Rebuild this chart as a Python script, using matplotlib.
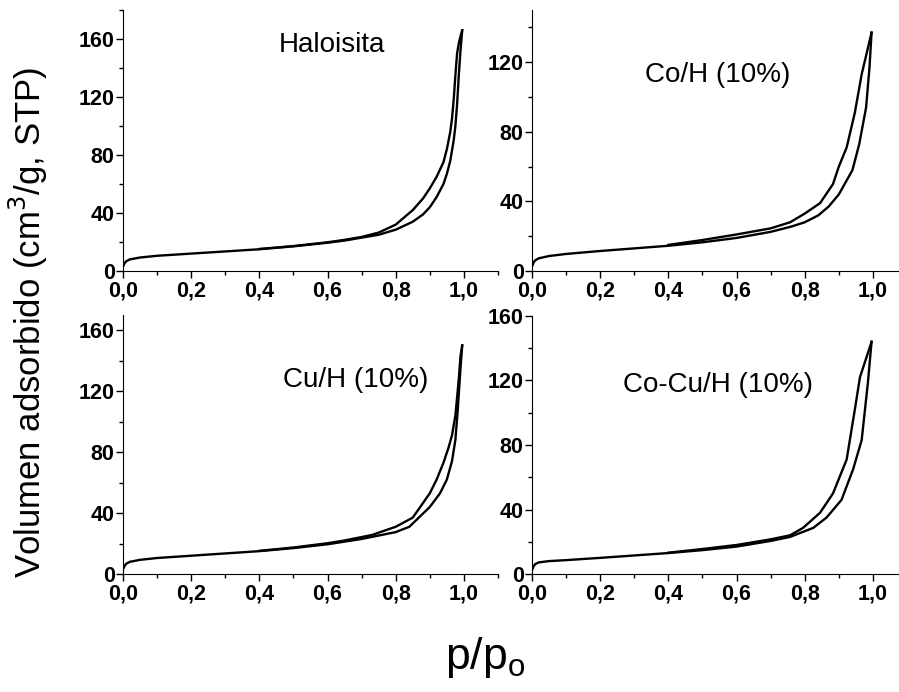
import matplotlib
matplotlib.use("Agg")
import matplotlib.pyplot as plt
from matplotlib.ticker import MultipleLocator, FuncFormatter

plt.rcParams["font.family"] = ["Liberation Sans", "DejaVu Sans"]

# Haloisita
halo_ads_p = [0.0, 0.005, 0.01, 0.02, 0.05, 0.1, 0.2, 0.3, 0.4, 0.5, 0.6, 0.65, 0.7, 0.75,
              0.8, 0.85, 0.88, 0.9, 0.92, 0.94, 0.95, 0.96, 0.97, 0.975, 0.98, 0.985, 0.99, 0.995]
halo_ads_v = [3, 5.5, 6.8, 8.0, 9.3, 10.5, 12, 13.5, 15, 17, 19.5, 21, 23, 25,
              28.5, 34, 39, 44, 51, 60, 67, 76, 90, 100, 115, 135, 152, 166]
halo_des_p = [0.995, 0.99, 0.985, 0.98, 0.975, 0.97, 0.965, 0.96, 0.95, 0.94, 0.92, 0.9,
              0.88, 0.85, 0.8, 0.75, 0.7, 0.65, 0.6, 0.5, 0.4]
halo_des_v = [166, 162, 157, 150, 135, 118, 105, 96, 84, 75, 65, 57,
              50, 42, 32, 26.5, 23.5, 21.5, 19.8, 17.2, 15.2]

# Co/H (10%)
coh_ads_p = [0.0, 0.005, 0.01, 0.02, 0.05, 0.1, 0.2, 0.3, 0.4, 0.5, 0.6, 0.7, 0.76, 0.8,
             0.84, 0.87, 0.9, 0.94, 0.96, 0.98, 0.99, 0.996]
coh_ads_v = [2.5, 5, 6.2, 7.3, 8.6, 9.8, 11.5, 13, 14.5, 16.5, 19, 22.5, 25.5, 28,
             32, 37, 44, 58, 73, 94, 117, 137]
coh_des_p = [0.996, 0.967, 0.947, 0.923, 0.9, 0.883, 0.845, 0.8, 0.757, 0.7, 0.6, 0.5, 0.4]
coh_des_v = [137, 113, 91, 71, 60, 50, 39, 33, 28, 24.5, 21, 17.8, 15]

# Cu/H (10%)
cuh_ads_p = [0.0, 0.005, 0.01, 0.02, 0.05, 0.1, 0.2, 0.3, 0.4, 0.5, 0.6, 0.7, 0.8, 0.84,
             0.9, 0.93, 0.95, 0.965, 0.975, 0.982, 0.99, 0.995]
cuh_ads_v = [3, 5.5, 6.8, 8.0, 9.3, 10.5, 12, 13.5, 15, 17, 19.5, 23, 27.5, 31,
             44, 53, 62, 74, 88, 108, 135, 150]
cuh_des_p = [0.995, 0.99, 0.985, 0.975, 0.965, 0.955, 0.94, 0.92, 0.9, 0.85, 0.8, 0.73,
             0.65, 0.6, 0.5, 0.4]
cuh_des_v = [150, 143, 128, 104, 91, 83, 73, 62, 53, 37, 31, 25.6,
             22, 20.2, 17.4, 15.2]

# Co-Cu/H (10%)
cocu_ads_p = [0.0, 0.005, 0.01, 0.02, 0.05, 0.1, 0.2, 0.3, 0.4, 0.5, 0.6, 0.7, 0.757, 0.825,
              0.864, 0.908, 0.942, 0.967, 0.985, 0.996]
cocu_ads_v = [2.5, 5, 6.2, 7.2, 8.0, 8.6, 10, 11.5, 13, 14.8, 17, 20.5, 23, 28.6,
              35, 46, 65, 83, 118, 144]
cocu_des_p = [0.996, 0.962, 0.947, 0.923, 0.883, 0.845, 0.795, 0.757, 0.7, 0.6, 0.5, 0.4]
cocu_des_v = [144, 122, 102, 71, 50, 38, 28.6, 24, 21.5, 18, 15.5, 13.2]

panels = [
    ("Haloisita", halo_ads_p, halo_ads_v, halo_des_p, halo_des_v, 180, (332, 45)),
    ("Co/H (10%)", coh_ads_p, coh_ads_v, coh_des_p, coh_des_v, 150, (718, 75)),
    ("Cu/H (10%)", cuh_ads_p, cuh_ads_v, cuh_des_p, cuh_des_v, 170, (356, 380)),
    ("Co-Cu/H (10%)", cocu_ads_p, cocu_ads_v, cocu_des_p, cocu_des_v, 160, (718, 385)),
]

W, H = 899, 692
fig = plt.figure(figsize=(W / 100, H / 100), dpi=100)

# axes boxes in pixels: (left, top, right, bottom)
boxes = [(123, 10, 498, 271), (532, 10, 907, 271),
         (123, 315, 498, 574), (532, 316, 907, 574)]

comma = FuncFormatter(lambda v, pos: f"{v:.1f}".replace(".", ","))

for (name, ap, av, dp, dv, ytop, tpos), (l, t, r, b) in zip(panels, boxes):
    ax = fig.add_axes([l / W, 1 - b / H, (r - l) / W, (b - t) / H])
    ax.plot(ap, av, color="black", lw=1.7)
    ax.plot(dp, dv, color="black", lw=1.7)
    ax.set_xlim(0, 1.1)
    ax.set_ylim(0, ytop)
    ax.spines["top"].set_visible(False)
    ax.spines["right"].set_visible(False)
    ax.xaxis.set_major_locator(MultipleLocator(0.2))
    ax.xaxis.set_minor_locator(MultipleLocator(0.1))
    ax.yaxis.set_major_locator(MultipleLocator(40))
    ax.yaxis.set_minor_locator(MultipleLocator(20))
    ax.xaxis.set_major_formatter(comma)
    ax.tick_params(which="major", length=5, width=1, labelsize=15.5)
    ax.tick_params(which="minor", length=3, width=1)
    ax.tick_params(axis="x", which="major", pad=2)
    ax.tick_params(axis="y", which="major", pad=1)
    for lab in ax.get_xticklabels() + ax.get_yticklabels():
        lab.set_fontweight("bold")
    fig.text(tpos[0] / W, 1 - tpos[1] / H, name, ha="center", va="center", fontsize=20)

fig.text(28 / W, 1 - 322 / H, "Volumen adsorbido (cm$^3$/g, STP)", rotation=90,
         ha="center", va="center", fontsize=25)
fig.text(485 / W, 1 - 657 / H, "p/p$_\\mathregular{o}$", ha="center", va="center",
         fontsize=32)

fig.savefig("out.png", dpi=100)
